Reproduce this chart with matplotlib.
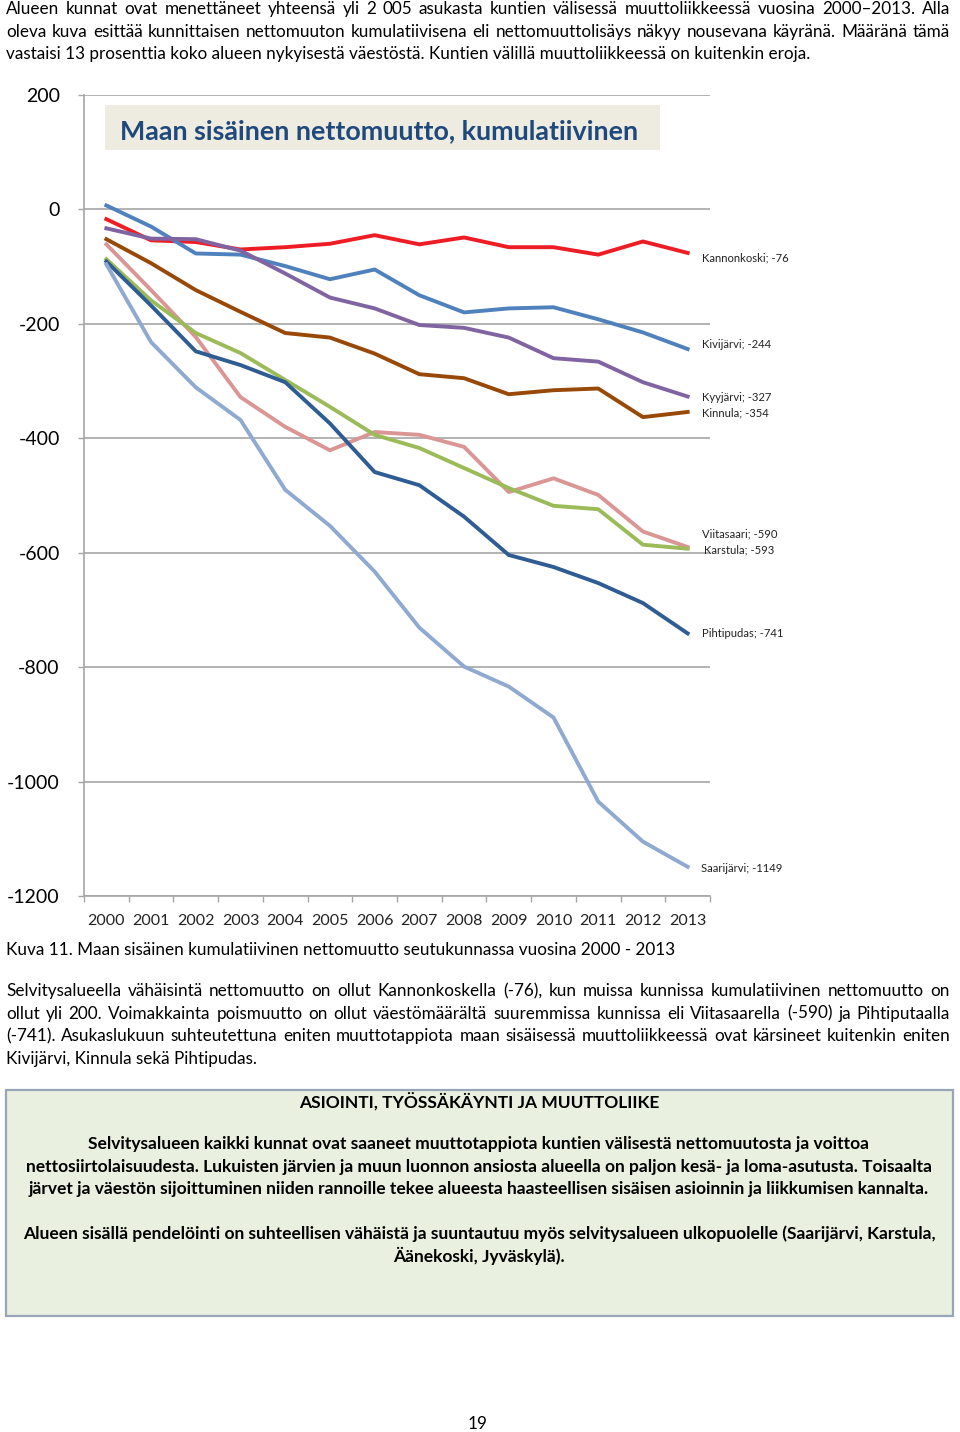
import matplotlib
matplotlib.use("Agg")
import matplotlib.pyplot as plt
from matplotlib.patches import Rectangle

plt.rcParams["font.family"] = ["Lato", "DejaVu Sans"]
plt.rcParams["axes.unicode_minus"] = False

W, H = 960, 1432

# --- chart data ---
years = [str(y) for y in range(2000, 2014)]
towns = ["Kannonkoski", "Kivijärvi", "Kyyjärvi", "Kinnula",
         "Viitasaari", "Karstula", "Pihtipudas", "Saarijärvi"]
kannonkoski = [-17, -54, -57, -70, -66, -60, -45, -61, -49, -66, -66, -79, -56, -76]
kivijarvi = [7, -30, -77, -79, -99, -122, -105, -150, -180, -173, -171, -192, -215, -244]
kyyjarvi = [-33, -51, -52, -72, -112, -154, -173, -202, -207, -224, -260, -266, -302, -327]
kinnula = [-52, -94, -141, -179, -216, -224, -252, -288, -295, -323, -316, -313, -363, -354]
viitasaari = [-61, -141, -223, -328, -380, -421, -389, -394, -415, -494, -470, -499, -563, -590]
karstula = [-87, -159, -216, -251, -298, -345, -394, -417, -452, -487, -518, -524, -586, -593]
pihtipudas = [-91, -168, -248, -272, -302, -374, -459, -482, -537, -604, -625, -653, -688, -741]
saarijarvi = [-96, -232, -311, -368, -490, -553, -633, -731, -799, -834, -888, -1035, -1105, -1149]
series = [kannonkoski, kivijarvi, kyyjarvi, kinnula, viitasaari, karstula, pihtipudas, saarijarvi]

colors = ["#EE1C25", "#4F81BD", "#8064A2", "#984807",
          "#D99694", "#9BBB59", "#2F5C93", "#8FA9D0"]
# label nudges in pixels (dx, dy), dy positive = down
label_nudge = [(14, 5), (14, -5), (14, 1), (14, 1), (14, -13), (16, 1), (14, 0), (13, 2)]

chart_title = "Maan sisäinen nettomuutto, kumulatiivinen"

# --- page text ---
intro_lines = [
    "Alueen kunnat ovat menettäneet yhteensä yli 2\u00a0005 asukasta kuntien välisessä muuttoliikkeessä vuosina 2000–2013. Alla",
    "oleva kuva esittää kunnittaisen nettomuuton kumulatiivisena eli nettomuuttolisäys näkyy nousevana käyränä. Määränä tämä",
    "vastaisi 13 prosenttia koko alueen nykyisestä väestöstä. Kuntien välillä muuttoliikkeessä on kuitenkin eroja.",
]
caption = "Kuva 11. Maan sisäinen kumulatiivinen nettomuutto seutukunnassa vuosina 2000 - 2013"
para_lines = [
    "Selvitysalueella vähäisintä nettomuutto on ollut Kannonkoskella (-76), kun muissa kunnissa kumulatiivinen nettomuutto on",
    "ollut yli 200. Voimakkainta poismuutto on ollut väestömäärältä suuremmissa kunnissa eli Viitasaarella (-590) ja Pihtiputaalla",
    "(-741).  Asukaslukuun suhteutettuna eniten muuttotappiota maan sisäisessä muuttoliikkeessä ovat kärsineet kuitenkin eniten",
    "Kivijärvi, Kinnula sekä Pihtipudas.",
]
box_title = "ASIOINTI, TYÖSSÄKÄYNTI JA MUUTTOLIIKE"
box_lines = [
    "Selvitysalueen kaikki kunnat ovat saaneet muuttotappiota kuntien välisestä nettomuutosta ja voittoa",
    "nettosiirtolaisuudesta. Lukuisten järvien ja muun luonnon ansiosta alueella on paljon kesä- ja loma-asutusta. Toisaalta",
    "järvet ja väestön sijoittuminen niiden rannoille tekee alueesta haasteellisen sisäisen asioinnin ja liikkumisen kannalta.",
    "",
    "Alueen sisällä pendelöinti on suhteellisen vähäistä ja suuntautuu myös selvitysalueen ulkopuolelle (Saarijärvi, Karstula,",
    "Äänekoski, Jyväskylä).",
]

fig = plt.figure(figsize=(W / 100, H / 100), dpi=100)
renderer = fig.canvas.get_renderer()


def width_of(s, size, weight="normal"):
    t = fig.text(0, 0, s, fontsize=size, fontweight=weight)
    w = t.get_window_extent(renderer).width
    t.remove()
    return w


def fit_size(s, target, weight="normal"):
    return 10 * target / width_of(s, 10, weight)


def put(x, y, s, size, weight="normal", ha="left", color="black"):
    fig.text(x / W, 1 - y / H, s, fontsize=size, fontweight=weight,
             ha=ha, va="baseline", color=color)


def justify(s, x0, x1, y, size, weight="normal"):
    words = s.split()
    ws = [width_of(w, size, weight) for w in words]
    gap = (x1 - x0 - sum(ws)) / (len(words) - 1)
    x = x0
    for w, wd in zip(words, ws):
        put(x, y, w, size, weight)
        x += wd + gap


body = fit_size(intro_lines[2], 804)

# intro paragraph
for i, line in enumerate(intro_lines):
    y = 14 + i * 22.6
    if i < len(intro_lines) - 1:
        justify(line, 6, 950, y, body)
    else:
        put(6, y, line, body)

# chart
ax = fig.add_axes([84 / W, 1 - 896 / H, 626 / W, 801 / H])
x = range(len(years))
for vals, c in zip(series, colors):
    ax.plot(x, vals, color=c, lw=2.8)

for name, vals, (dx, dy) in zip(towns, series, label_nudge):
    ax.annotate(f"{name}; {vals[-1]}", (len(years) - 1, vals[-1]),
                xytext=(dx * 0.72, -dy * 0.72), textcoords="offset points",
                fontsize=8.1, va="center", ha="left", color="#222222",
                annotation_clip=False)

grid = "#A6A6A6"
ax.set_xlim(-0.5, len(years) - 0.5)
ax.set_ylim(-1200, 200)
ax.set_yticks(range(-1200, 201, 200))
ax.set_xticks(list(x), years)
ax.set_xticks([i - 0.5 for i in range(len(years) + 1)], minor=True)
ax.tick_params(axis="x", which="major", length=0, pad=13, labelsize=11.5, colors="#222222")
ax.tick_params(axis="x", which="minor", length=4.5, width=1, color=grid)
ax.tick_params(axis="y", length=4.5, width=1, color=grid, pad=13, labelsize=14, labelcolor="black")
ax.grid(axis="y", color=grid, lw=1.2)
ax.set_axisbelow(True)
for s in ["top", "right"]:
    ax.spines[s].set_visible(False)
for s in ["left", "bottom"]:
    ax.spines[s].set_color(grid)
    ax.spines[s].set_linewidth(1.2)

# chart title box
fig.patches.append(Rectangle((105 / W, 1 - 150 / H), 555 / W, 45 / H,
                             transform=fig.transFigure, facecolor="#EEECE1",
                             edgecolor="none", zorder=3))
title_size = fit_size(chart_title, 520, "bold")
put(120, 139, chart_title, title_size, "bold", color="#1F497D")

# caption and paragraph
put(6, 955, caption, body)
for i, line in enumerate(para_lines):
    y = 996 + i * 22.6
    if i < len(para_lines) - 1:
        justify(line, 6, 950, y, body)
    else:
        put(6, y, line, body)

# info box
fig.patches.append(Rectangle((6 / W, 1 - 1316 / H), 947 / W, 226 / H,
                             transform=fig.transFigure, facecolor="#EAF0DF",
                             edgecolor="#97A5B8", lw=1.6))
box_size = fit_size(box_lines[2], 903, "bold")
put(479, 1108, box_title, box_size, "bold", ha="center")
for i, line in enumerate(box_lines):
    if line:
        put(479, 1149 + i * 22.6, line, box_size, "bold", ha="center")

put(478, 1429, "19", body, ha="center")

fig.savefig("out.png", dpi=100)
